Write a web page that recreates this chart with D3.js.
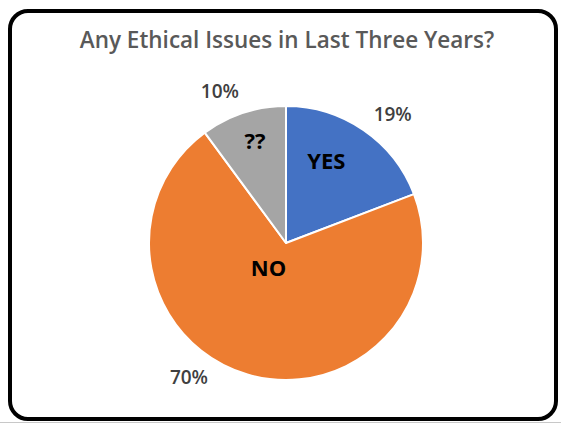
<!DOCTYPE html>
<html><head><meta charset="utf-8">
<script src="https://cdn.jsdelivr.net/npm/d3@7"></script>
<style>html,body{margin:0;padding:0;background:#fff;}svg{display:block;}</style>
</head><body>
<svg id="c" width="561" height="423"></svg>
<script>
const title = "Any Ethical Issues in Last Three Years?";
const categories = ["YES", "NO", "??"];
const values = [19, 70, 10];
const percentLabels = ["19%", "70%", "10%"];
const colors = ["#4472C4", "#ED7D31", "#A5A5A5"];

const svg = d3.select("#c");
const W = 561, H = 423;
svg.append("rect").attr("x", 10).attr("y", 11).attr("width", 546).attr("height", 408)
  .attr("rx", 18).attr("ry", 18).attr("fill", "#fff").attr("stroke", "#000").attr("stroke-width", 4);
svg.append("line").attr("x1", 0).attr("x2", W).attr("y1", 422.5).attr("y2", 422.5)
  .attr("stroke", "#c8c8c8").attr("stroke-width", 1);

svg.append("text").attr("x", 287).attr("y", 48).attr("text-anchor", "middle")
  .attr("font-family", "'Open Sans', sans-serif").attr("font-size", 22.5).attr("font-weight", 600)
  .attr("fill", "#595959").text(title);

const cx = 286, cy = 243, r = 137;
const g = svg.append("g").attr("transform", `translate(${cx},${cy})`);
const data = categories.map((c, i) => ({cat: c, value: values[i], pct: percentLabels[i], color: colors[i]}));
const pie = d3.pie().value(d => d.value).sort(null);
const arcs = pie(data);
const arc = d3.arc().innerRadius(0).outerRadius(r);
g.selectAll("path").data(arcs).join("path")
  .attr("d", arc).attr("fill", d => d.data.color)
  .attr("stroke", "#fff").attr("stroke-width", 2).attr("stroke-linejoin", "round");

// outside percent labels (Excel best-fit placement offsets), order: YES, NO, ??
const outer = d3.arc().innerRadius(167).outerRadius(167);
const pctOffsets = [[12, 9], [-50, -26], [-14, 7]];
g.selectAll("text.pct").data(arcs).join("text").attr("class", "pct")
  .attr("x", (d, i) => outer.centroid(d)[0] + pctOffsets[i][0])
  .attr("y", (d, i) => outer.centroid(d)[1] + pctOffsets[i][1])
  .attr("text-anchor", "middle").attr("dominant-baseline", "central")
  .attr("font-family", "'Open Sans', sans-serif").attr("font-size", 19).attr("font-weight", 600)
  .attr("fill", "#404040").text(d => d.data.pct);

// inside category labels, order: YES, NO, ??
const inner = d3.arc().innerRadius(r * 0.7).outerRadius(r * 0.7);
const catOffsets = [[-14, -4], [9.5, -68], [-1, -12]];
g.selectAll("text.cat").data(arcs).join("text").attr("class", "cat")
  .attr("x", (d, i) => inner.centroid(d)[0] + catOffsets[i][0])
  .attr("y", (d, i) => inner.centroid(d)[1] + catOffsets[i][1])
  .attr("text-anchor", "middle").attr("dominant-baseline", "central")
  .attr("font-family", "'Open Sans', sans-serif").attr("font-size", 22).attr("font-weight", 700)
  .attr("fill", "#000").text(d => d.data.cat);
</script>
</body></html>
